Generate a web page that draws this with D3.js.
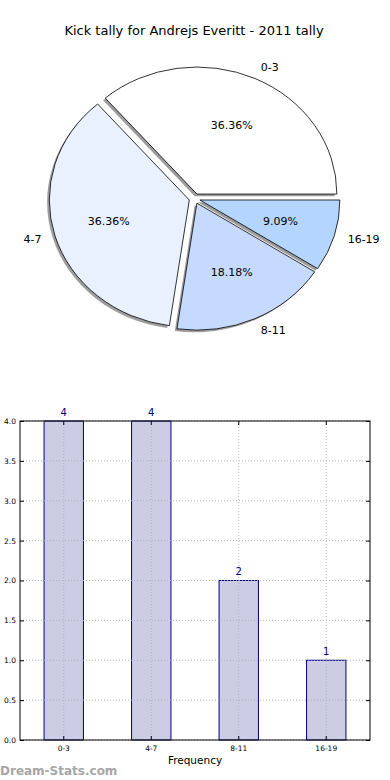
<!DOCTYPE html>
<html><head><meta charset="utf-8">
<script src="https://cdn.jsdelivr.net/npm/d3@7"></script>
<style>body{margin:0;background:#fff;} svg{display:block;}</style>
</head><body>
<script>
const categories = ["0-3", "4-7", "8-11", "16-19"];
const counts = [4, 4, 2, 1];
const pieColors = ["#ffffff", "#eaf1fe", "#c6d9ff", "#b3d5ff"];
const yTicks = [0, 0.5, 1, 1.5, 2, 2.5, 3, 3.5, 4];
const title = "Kick tally for Andrejs Everitt - 2011 tally";

const W = 390, H = 780;
const svg = d3.select("body").append("svg").attr("width", W).attr("height", H);
const font = "DejaVu Sans, sans-serif";

svg.append("text").attr("x", 194).attr("y", 35).attr("text-anchor", "middle")
  .attr("font-family", font).attr("font-size", 13).text(title);

// ---- Pie ----
const cx = 194.6, cy = 198.6, R = 127, sx = 140 / 127, explode = 5;
const total = d3.sum(counts);
const pie = d3.pie().sort(null).startAngle(Math.PI / 2).endAngle(Math.PI / 2 - 2 * Math.PI);
const arcs = pie(counts);
const arcGen = d3.arc().innerRadius(0).outerRadius(R);
const pg = svg.append("g").attr("transform", `translate(${cx},${cy}) scale(${sx},1)`);

arcs.forEach((a, i) => {
  const m = (a.startAngle + a.endAngle) / 2;
  const ox = Math.sin(m) * explode, oy = -Math.cos(m) * explode;
  pg.append("path").attr("d", arcGen(a))
    .attr("transform", `translate(${ox - 2.2 / sx},${oy + 2.2})`)
    .attr("fill", "#4d4d4d").attr("fill-opacity", 0.55);
});
arcs.forEach((a, i) => {
  const m = (a.startAngle + a.endAngle) / 2;
  const ox = Math.sin(m) * explode, oy = -Math.cos(m) * explode;
  pg.append("path").attr("d", arcGen(a))
    .attr("transform", `translate(${ox},${oy})`)
    .attr("fill", pieColors[i]).attr("stroke", "#000").attr("stroke-width", 0.8)
    .attr("vector-effect", "non-scaling-stroke");
});
arcs.forEach((a, i) => {
  const m = (a.startAngle + a.endAngle) / 2;
  const dx = Math.sin(m), dy = -Math.cos(m);
  const lr = explode + 1.1 * R, pr = explode + 0.6 * R;
  const lx = cx + dx * lr * sx, ly = cy + dy * lr;
  svg.append("text").attr("x", lx).attr("y", ly).attr("dy", "0.35em")
    .attr("text-anchor", dx >= 0 ? "start" : "end")
    .attr("font-family", font).attr("font-size", 11).text(categories[i]);
  svg.append("text").attr("x", cx + dx * pr * sx).attr("y", cy + dy * pr).attr("dy", "0.35em")
    .attr("text-anchor", "middle").attr("font-family", font).attr("font-size", 11)
    .text((counts[i] / total * 100).toFixed(2) + "%");
});

// ---- Bar chart ----
const L = 20, Rr = 370, T = 421, B = 740;
const x = d3.scaleBand().domain(categories).range([L, Rr]).paddingInner(0.55).paddingOuter(0.275);
const y = d3.scaleLinear().domain([0, 4]).range([B, T]);
const bg = svg.append("g");

bg.selectAll("rect.bar").data(counts).enter().append("rect")
  .attr("x", (d, i) => x(categories[i])).attr("y", d => y(d))
  .attr("width", x.bandwidth()).attr("height", d => B - y(d))
  .attr("fill", "#ccccE4").attr("stroke", "#000080").attr("stroke-width", 1);

// grid
bg.selectAll("line.hg").data(yTicks).enter().append("line")
  .attr("x1", L).attr("x2", Rr).attr("y1", d => y(d)).attr("y2", d => y(d))
  .attr("stroke", "#aaa").attr("stroke-width", 0.8).attr("stroke-dasharray", "1,2");
bg.selectAll("line.vg").data(categories).enter().append("line")
  .attr("x1", d => x(d) + x.bandwidth() / 2).attr("x2", d => x(d) + x.bandwidth() / 2)
  .attr("y1", T).attr("y2", B)
  .attr("stroke", "#aaa").attr("stroke-width", 0.8).attr("stroke-dasharray", "1,2");

// axes
const yAxis = d3.axisLeft(y).tickValues(yTicks).tickFormat(d3.format(".1f")).tickSize(-4).tickPadding(4);
const ya = bg.append("g").attr("transform", `translate(${L},0)`).call(yAxis);
ya.select(".domain").remove();
ya.selectAll("text").attr("font-family", font).attr("font-size", 7.5).attr("fill", "#000");
ya.selectAll("line").attr("stroke", "#000");
const yr = bg.append("g").attr("transform", `translate(${Rr},0)`).call(d3.axisRight(y).tickValues(yTicks).tickSize(-4).tickFormat(""));
yr.select(".domain").remove();
const xAxis = d3.axisBottom(x).tickSize(-4).tickPadding(6);
const xa = bg.append("g").attr("transform", `translate(0,${B})`).call(xAxis);
xa.select(".domain").remove();
xa.selectAll("text").attr("font-family", font).attr("font-size", 7.5).attr("fill", "#000");
const xt = bg.append("g").attr("transform", `translate(0,${T})`).call(d3.axisTop(x).tickSize(-4).tickFormat(""));
xt.select(".domain").remove();

bg.append("rect").attr("x", L).attr("y", T).attr("width", Rr - L).attr("height", B - T)
  .attr("fill", "none").attr("stroke", "#000").attr("stroke-width", 1);

bg.selectAll("text.val").data(counts).enter().append("text")
  .attr("x", (d, i) => x(categories[i]) + x.bandwidth() / 2).attr("y", d => y(d) - 5.5)
  .attr("text-anchor", "middle").attr("font-family", font).attr("font-size", 10)
  .attr("fill", "#000080").text(d => d);

svg.append("text").attr("x", 195).attr("y", 764).attr("text-anchor", "middle")
  .attr("font-family", font).attr("font-size", 10.5).text("Frequency");

svg.append("text").attr("x", 0).attr("y", 775).attr("font-family", font)
  .attr("font-size", 12).attr("font-weight", "bold").attr("fill", "#a6a6a6").text("Dream-Stats.com");
</script>
</body></html>
